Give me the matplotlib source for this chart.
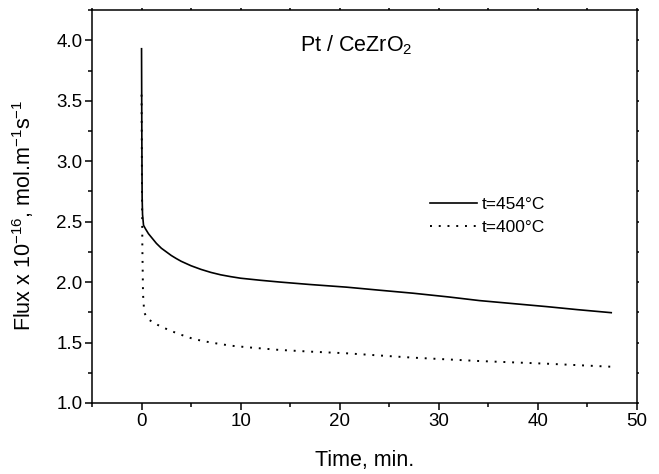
import numpy as np
import matplotlib
matplotlib.use("Agg")
import matplotlib.pyplot as plt
from matplotlib.ticker import MultipleLocator

plt.rcParams['font.family'] = ['Liberation Sans', 'DejaVu Sans']
plt.rcParams['mathtext.fontset'] = 'custom'
plt.rcParams['mathtext.rm'] = 'Liberation Sans'
plt.rcParams['mathtext.it'] = 'Liberation Sans:italic'
plt.rcParams['mathtext.default'] = 'regular'

# data (time in min, flux x 1e-16)
t_454 = [0, 0.03, 0.06, 0.1, 0.2, 0.4, 0.7, 1.0, 1.5, 2.0, 2.5, 3.0, 3.5,
         4.0, 5.0, 6.0, 7.0, 8.0, 9.0, 10.0, 12.0, 14.0, 17.0, 20.7, 24.0,
         27.4, 31.0, 34.1, 37.5, 40.9, 44.0, 47.4]
flux_454 = [3.93, 3.2, 2.7, 2.56, 2.47, 2.44, 2.40, 2.37, 2.32, 2.28, 2.25,
            2.22, 2.195, 2.172, 2.135, 2.105, 2.08, 2.06, 2.045, 2.032, 2.015,
            2.0, 1.98, 1.958, 1.933, 1.908, 1.877, 1.847, 1.822, 1.797, 1.772,
            1.747]

t_400 = [0, 0.04, 0.08, 0.15, 0.27, 0.5, 0.8, 1.2, 1.6, 2.3, 3.1, 4.0, 5.3,
         7.0, 9.0, 11.1, 13.9, 17.0, 20.7, 24.0, 27.4, 31.0, 34.1, 37.5,
         40.9, 44.0, 47.4]
flux_400 = [3.55, 2.9, 2.3, 1.9, 1.75, 1.71, 1.686, 1.665, 1.647, 1.62, 1.592,
            1.564, 1.528, 1.50, 1.474, 1.458, 1.439, 1.425, 1.411, 1.393,
            1.375, 1.36, 1.347, 1.336, 1.325, 1.313, 1.30]

labels = ['t=454°C', 't=400°C']

fig = plt.figure(figsize=(6.59, 4.74), dpi=100)
ax = fig.add_axes([0.1396, 0.1498, 0.827, 0.829])

ax.plot(t_454, flux_454, color='black', lw=1.2, label=labels[0])
ax.plot(t_400, flux_400, color='black', lw=1.4, linestyle=(0, (1, 3.5)),
        label=labels[1])

ax.set_xlim(-5, 50)
ax.set_ylim(1.0, 4.25)
ax.xaxis.set_major_locator(MultipleLocator(10))
ax.xaxis.set_minor_locator(MultipleLocator(5))
ax.yaxis.set_major_locator(MultipleLocator(0.5))
ax.yaxis.set_minor_locator(MultipleLocator(0.25))
ax.yaxis.set_major_formatter(matplotlib.ticker.FormatStrFormatter('%.1f'))

for s in ax.spines.values():
    s.set_linewidth(1.1)

ax.tick_params(which='major', direction='out', length=5, width=1.1,
               labelsize=13.5, pad=2)
ax.tick_params(which='minor', direction='out', length=3, width=1.1)
ax.tick_params(which='both', top=True, right=True)
# tiny marks on top/right spines
for t in ax.xaxis.get_major_ticks() + ax.xaxis.get_minor_ticks():
    t.tick2line.set_markersize(1.5)
for t in ax.yaxis.get_major_ticks() + ax.yaxis.get_minor_ticks():
    t.tick2line.set_markersize(1.5)

ax.set_xlabel('Time, min.', fontsize=15.5)
ax.set_ylabel(r'Flux x 10$^{-16}$, mol.m$^{-1}$s$^{-1}$', fontsize=15.5)
ax.xaxis.set_label_coords(0.5, -0.12)
ax.yaxis.set_label_coords(-0.103, 0.478)

ax.text(0.382, 0.896, r'Pt / CeZrO$_2$', transform=ax.transAxes,
        fontsize=15.5, ha='left', va='baseline')

ax.legend(loc='center left', bbox_to_anchor=(0.62, 0.476), frameon=False,
          fontsize=12.5, handlelength=2.7, handletextpad=0.3,
          borderpad=0, borderaxespad=0, labelspacing=0.45)

fig.savefig('out.png', dpi=100)
